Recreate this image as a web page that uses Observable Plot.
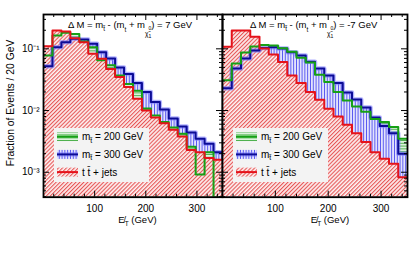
<!DOCTYPE html>
<html><head><meta charset="utf-8">
<script src="https://cdn.jsdelivr.net/npm/d3@7"></script>
<script src="https://cdn.jsdelivr.net/npm/@observablehq/plot@0.6"></script>
<style>
html,body{margin:0;padding:0;background:#fff;}
#chart{position:relative;width:415px;height:261px;overflow:hidden;}
#chart svg{position:absolute;top:0;overflow:visible;}
</style></head><body><div id="chart"></div>
<script>
// ---- data ----
const binStart = [0, 17.5, 35, 52.5, 70, 87.5, 105, 122.5, 140, 157.5, 175, 192.5, 210, 227.5, 245, 262.5, 280, 297.5, 315, 332.5];
const binEnd = 350;
// Left panel: Delta M = 7 GeV
const ttLeft   = [0.110, 0.198, 0.191, 0.149, 0.128, 0.083, 0.069, 0.047, 0.035, 0.024, 0.0155, 0.0100, 0.0077, 0.0062, 0.0049, 0.0038, 0.0023, 0.0021, 0.0017, 0.0016];
const m200Left = [0.078, 0.164, 0.182, 0.174, 0.131, 0.106, 0.065, 0.054, 0.037, 0.027, 0.021, 0.0108, 0.0083, 0.0065, 0.0053, 0.0042, 0.0026, 0.00092, 0.0021, 0];
const m300Left = [0.052, 0.106, 0.128, 0.145, 0.142, 0.121, 0.088, 0.070, 0.050, 0.039, 0.028, 0.020, 0.0137, 0.0104, 0.0074, 0.0055, 0.0044, 0.0035, 0.0029, 0.0021];
// Right panel: Delta M = -7 GeV
const ttRight   = [0.108, 0.198, 0.198, 0.157, 0.101, 0.081, 0.061, 0.037, 0.028, 0.020, 0.015, 0.0107, 0.0080, 0.0059, 0.0043, 0.0031, 0.0021, 0.00165, 0.00137, 0.00083];
const m200Right = [0.031, 0.058, 0.087, 0.109, 0.115, 0.113, 0.102, 0.090, 0.072, 0.060, 0.038, 0.029, 0.020, 0.0145, 0.0116, 0.0096, 0.0073, 0.0065, 0.0054, 0.0035];
const m300Right = [0.023, 0.048, 0.070, 0.094, 0.103, 0.106, 0.101, 0.088, 0.078, 0.062, 0.048, 0.037, 0.028, 0.0196, 0.0151, 0.0112, 0.0077, 0.0056, 0.0043, 0.0020];

const xDomain = [0, 350];
const yDomain = [3.94e-4, 0.36];
const xMajor = [100, 200, 300];
const xMinor = [20, 40, 60, 80, 120, 140, 160, 180, 220, 240, 260, 280, 320, 340];
const yMajor = [1e-3, 1e-2, 1e-1];
const yMinor = [4e-4, 5e-4, 6e-4, 7e-4, 8e-4, 9e-4, 2e-3, 3e-3, 4e-3, 5e-3, 6e-3, 7e-3, 8e-3, 9e-3, 2e-2, 3e-2, 4e-2, 5e-2, 6e-2, 7e-2, 8e-2, 9e-2, 0.2, 0.3];
const yTickLabels = ["10\u207B\u00B3", "10\u207B\u00B2", "10\u207B\u00B9"];
const legendLabels = ["= 200 GeV", "= 300 GeV", "+ jets"];
const yLabel = "Fraction of Events / 20 GeV";
const xLabelRest = " (GeV)";

// ---- layout ----
const FONT = '"Liberation Sans", Arial, Helvetica, sans-serif';
const H = 261, MT = 14, MB = 64.3;
const plotH = H - MT - MB;

function histPoints(values) {
  const pts = binStart.map((x, i) => ({x, v: Math.max(values[i], yDomain[0])}));
  pts.push({x: binEnd, v: pts[pts.length - 1].v});
  return pts;
}

function addDefs(svg, id) {
  const d = d3.select(svg).insert("defs", ":first-child");
  let p = d.append("pattern").attr("id", id + "-red").attr("patternUnits", "userSpaceOnUse")
    .attr("width", 2.8).attr("height", 2.8).attr("patternTransform", "rotate(45)");
  p.append("rect").attr("width", 2.8).attr("height", 2.8).attr("fill", "#fdf0f0");
  p.append("rect").attr("width", 1.1).attr("height", 2.8).attr("fill", "#e65656");
  p = d.append("pattern").attr("id", id + "-blue").attr("patternUnits", "userSpaceOnUse")
    .attr("width", 2.8).attr("height", 2.8);
  p.append("rect").attr("width", 2.8).attr("height", 2.8).attr("fill", "#e2e2fc");
  p.append("rect").attr("width", 0.9).attr("height", 2.8).attr("fill", "#5050f0");
  p = d.append("pattern").attr("id", id + "-green").attr("patternUnits", "userSpaceOnUse")
    .attr("width", 2.8).attr("height", 2.8);
  p.append("rect").attr("width", 2.8).attr("height", 2.8).attr("fill", "#ddf1dd");
  p.append("rect").attr("width", 2.8).attr("height", 0.9).attr("fill", "#44ad44");
}

function addTitle(svg, x, y, dm) {
  const t = d3.select(svg).append("text").attr("x", x).attr("y", y).attr("text-anchor", "start")
    .attr("font-size", 9.5).attr("font-family", FONT).attr("fill", "#000");
  t.append("tspan").text("\u0394 M = m");
  t.append("tspan").attr("dy", 3).attr("font-size", 6.5).text("t\u0303");
  t.append("tspan").attr("dy", -3).text(" - (m");
  t.append("tspan").attr("dy", 4).attr("font-size", 6.5).text("t");
  t.append("tspan").attr("dy", -4).text(" + m");
  t.append("tspan").attr("dy", 8).attr("font-size", 6.5).text("\u03C7\u0303");
  t.append("tspan").attr("dy", -6).attr("font-size", 5).text("0");
  t.append("tspan").attr("dx", -2.8).attr("dy", 8).attr("font-size", 5).text("1");
  t.append("tspan").attr("dy", -10).text(") = " + dm);
}

function addXTitle(svg, cx, y) {
  const t = d3.select(svg).append("text").attr("x", cx).attr("y", y).attr("text-anchor", "middle")
    .attr("font-size", 9.5).attr("font-family", FONT).attr("fill", "#000");
  t.append("tspan").text("E\u0338");
  t.append("tspan").attr("dy", 2.5).attr("font-size", 6.5).text("T");
  t.append("tspan").attr("dy", -2.5).text(xLabelRest);
}

function addLegend(svg, x0, y0, id) {
  const g = d3.select(svg).append("g").attr("font-family", FONT).attr("font-size", 10).attr("text-anchor", "start");
  g.append("rect").attr("x", x0).attr("y", y0).attr("width", 95).attr("height", 54).attr("fill", "#f3f3f3");
  const rows = [
    {fill: `url(#${id}-green)`, stroke: "#16a016", halo: "#8fd68f"},
    {fill: `url(#${id}-blue)`, stroke: "#0c0c96", halo: "#7f7fff"},
    {fill: `url(#${id}-red)`, stroke: "#e5121a", halo: null}
  ];
  rows.forEach((r, i) => {
    const cy = y0 + 8.7 + i * 17.7;
    g.append("rect").attr("x", x0 + 3).attr("y", cy - 4.5).attr("width", 21).attr("height", 9).attr("fill", r.fill);
    if (r.halo) g.append("line").attr("x1", x0 + 3).attr("x2", x0 + 24).attr("y1", cy).attr("y2", cy)
      .attr("stroke", r.halo).attr("stroke-width", 4.5).attr("stroke-opacity", 0.6);
    g.append("line").attr("x1", x0 + 3).attr("x2", x0 + 24).attr("y1", cy).attr("y2", cy)
      .attr("stroke", r.stroke).attr("stroke-width", 2);
    const t = g.append("text").attr("x", x0 + 28).attr("y", cy + 3.5).attr("fill", "#000");
    if (i < 2) {
      t.append("tspan").text("m");
      t.append("tspan").attr("dy", 2.5).attr("font-size", 7).text("t\u0303");
      t.append("tspan").attr("dy", -2.5).text(" " + legendLabels[i]);
    } else {
      t.append("tspan").text("t t\u0304 " + legendLabels[i]);
    }
  });
}

function panel(o) {
  const plotW = o.width - o.ml - o.mr;
  const tt = histPoints(o.tt), g = histPoints(o.m200), b = histPoints(o.m300);
  const area = (pts, fill) => Plot.areaY(pts, {x: "x", y1: yDomain[0], y2: "v", curve: "step-after", fill, clip: true});
  const line = (pts, stroke, w, op = 1) => Plot.line(pts, {x: "x", y: "v", curve: "step-after", stroke, strokeWidth: w, strokeOpacity: op, clip: true});
  const areas = {
    blue: area(b, `url(#${o.id}-blue)`),
    green: area(g, `url(#${o.id}-green)`),
    red: area(tt, `url(#${o.id}-red)`)
  };
  const marks = [
    ...o.order.map(k => areas[k]),
    line(b, "#7f7fff", 4.5, 0.6),
    line(b, "#0c0c96", 2),
    line(g, "#16a016", 2),
    line(tt, "#e5121a", 2),
    Plot.tickY(yMajor, {y: d => d, insetRight: plotW - 6, stroke: "#000"}),
    Plot.tickY(yMinor, {y: d => d, insetRight: plotW - 3, stroke: "#000"}),
    Plot.tickY(yMajor, {y: d => d, insetLeft: plotW - 6, stroke: "#000"}),
    Plot.tickY(yMinor, {y: d => d, insetLeft: plotW - 3, stroke: "#000"}),
    Plot.tickX(xMajor, {x: d => d, insetTop: plotH - 6, stroke: "#000"}),
    Plot.tickX(xMinor, {x: d => d, insetTop: plotH - 3, stroke: "#000"}),
    Plot.tickX(xMajor, {x: d => d, insetBottom: plotH - 6, stroke: "#000"}),
    Plot.tickX(xMinor, {x: d => d, insetBottom: plotH - 3, stroke: "#000"}),
    Plot.frame({stroke: "#000", strokeWidth: 1.8}),
    Plot.axisX({ticks: xMajor, tickSize: 0, tickPadding: 8, tickFormat: d => String(d), label: null, fontSize: 10})
  ];
  if (o.yLabels) marks.push(Plot.axisY({ticks: yMajor, tickSize: 0, tickPadding: 4,
    tickFormat: d => yTickLabels[yMajor.indexOf(d)], label: null, fontSize: 10}));
  const svg = Plot.plot({
    width: o.width, height: H,
    marginLeft: o.ml, marginRight: o.mr, marginTop: MT, marginBottom: MB,
    x: {domain: xDomain},
    y: {type: "log", domain: yDomain, axis: o.yLabels ? undefined : null},
    style: {fontFamily: FONT, fontSize: "10px", background: "transparent", overflow: "visible", color: "#000"},
    marks
  });
  svg.style.left = o.left + "px";
  addDefs(svg, o.id);
  return svg;
}

const chart = document.getElementById("chart");
const left = panel({id: "pl", left: 0, width: 232, ml: 43, mr: 10, tt: ttLeft, m200: m200Left, m300: m300Left,
  order: ["blue", "green", "red"], yLabels: true});
const right = panel({id: "pr", left: 212, width: 203, ml: 10, mr: 8, tt: ttRight, m200: m200Right, m300: m300Right,
  order: ["green", "blue", "red"], yLabels: false});
chart.appendChild(left);
chart.appendChild(right);

addTitle(left, 68, 27.5, "7 GeV");
addTitle(right, 38, 27.5, "-7 GeV");
addLegend(left, 54, 128, "pl");
addLegend(right, 21, 128, "pr");
addXTitle(left, 137.5, 223);
addXTitle(right, 118, 223);
d3.select(left).append("text").attr("transform", "translate(10,103) rotate(-90)")
  .attr("text-anchor", "middle").attr("dominant-baseline", "central")
  .attr("font-size", 10.3).attr("font-family", FONT).attr("fill", "#000").text(yLabel);
</script></body></html>
